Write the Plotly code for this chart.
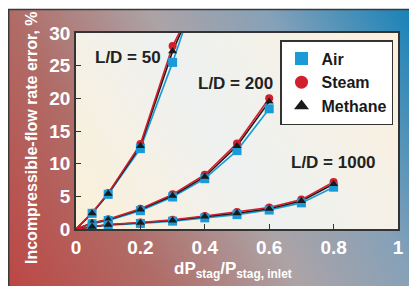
import base64
import plotly.graph_objects as go

# ---------------- data ----------------
x50 = [0, 0.05, 0.1, 0.2, 0.3, 0.4]
air50 = [0, 2.4, 5.3, 12.3, 25.5, 40.0]
steam50 = [0, 2.5, 5.5, 13.0, 28.0, 37.8]
meth50 = [0, 2.4, 5.4, 12.7, 27.2, 38.4]

x200 = [0, 0.05, 0.1, 0.2, 0.3, 0.4, 0.5, 0.6]
air200 = [0, 0.8, 1.3, 2.8, 4.9, 7.7, 12.0, 18.4]
steam200 = [0, 0.9, 1.5, 3.1, 5.3, 8.3, 13.1, 20.0]
meth200 = [0, 0.9, 1.4, 3.0, 5.1, 8.0, 12.7, 19.5]

x1000 = [0, 0.05, 0.1, 0.2, 0.3, 0.4, 0.5, 0.6, 0.7, 0.8]
air1000 = [0, 0.3, 0.6, 0.85, 1.2, 1.7, 2.2, 2.9, 4.0, 6.4]
steam1000 = [0, 0.35, 0.7, 1.0, 1.4, 2.0, 2.6, 3.3, 4.5, 7.2]
meth1000 = [0, 0.35, 0.65, 0.95, 1.3, 1.9, 2.4, 3.1, 4.3, 6.9]

series_names = ["Air", "Steam", "Methane"]
group_labels = ["L/D = 50", "L/D = 200", "L/D = 1000"]
x_ticks = [0, 0.2, 0.4, 0.6, 0.8, 1]
x_tick_text = ["0", "0.2", "0.4", "0.6", "0.8", "1"]
y_ticks = [0, 5, 10, 15, 20, 25, 30]

# ---------------- styling ----------------
OFF = 8  # page body margin offset
W, H = 417 - OFF, 286 - OFF
L, R, T, B = 76 - OFF, W - (398 - OFF), 33 - OFF, H - (229 - OFF)
PW, PH = W - L - R, H - T - B
FONT = "Liberation Sans Narrow, Liberation Sans, Arial, sans-serif"

styles = {
    "Air": dict(color="#1b9ad8", symbol="square", size=9),
    "Steam": dict(color="#d21f2d", symbol="circle", size=8),
    "Methane": dict(color="#1a1a1a", symbol="triangle-up", size=8),
}


def px_to_paper(px, py):
    """reference page pixel -> paper coordinates"""
    fx, fy = px - OFF, py - OFF
    return (fx - L) / PW, (H - B - fy) / PH


def svg_uri(svg):
    return "data:image/svg+xml;base64," + base64.b64encode(svg.encode()).decode()


bg_w, bg_h = 420, 285
bg_svg = f"""<svg xmlns='http://www.w3.org/2000/svg' width='{bg_w}' height='{bg_h}' viewBox='0 0 {bg_w} {bg_h}' preserveAspectRatio='none'>
<defs><linearGradient id='g' gradientUnits='userSpaceOnUse' x1='-8' y1='262' x2='424' y2='27'>
<stop offset='0' stop-color='#bc4744'/>
<stop offset='0.27' stop-color='#b06c67'/>
<stop offset='0.52' stop-color='#aca3a6'/>
<stop offset='0.73' stop-color='#86a1b8'/>
<stop offset='1' stop-color='#1281b8'/>
</linearGradient></defs>
<rect width='{bg_w}' height='{bg_h}' fill='url(#g)'/></svg>"""

pa_svg = f"""<svg xmlns='http://www.w3.org/2000/svg' width='{PW}' height='{PH}' viewBox='0 0 {PW} {PH}' preserveAspectRatio='none'>
<defs><linearGradient id='p' gradientUnits='userSpaceOnUse' x1='0' y1='{PH}' x2='{PW}' y2='0'>
<stop offset='0' stop-color='#fcf0d8'/>
<stop offset='0.45' stop-color='#eef1f0'/>
<stop offset='0.6' stop-color='#f1f1ec'/>
<stop offset='1' stop-color='#fcf0dc'/>
</linearGradient></defs>
<rect width='{PW}' height='{PH}' fill='url(#p)'/></svg>"""

fig = go.Figure()

groups = [
    (x50, {"Air": air50, "Steam": steam50, "Methane": meth50}),
    (x200, {"Air": air200, "Steam": steam200, "Methane": meth200}),
    (x1000, {"Air": air1000, "Steam": steam1000, "Methane": meth1000}),
]

# lines first (red on top), then markers (circles, squares, triangles)
for xs, vals in groups:
    for name in ["Air", "Methane", "Steam"]:
        st = styles[name]
        fig.add_trace(go.Scatter(
            x=xs, y=vals[name], mode="lines", showlegend=False,
            line=dict(color=st["color"], width=1.6), hoverinfo="skip",
        ))
for xs, vals in groups:
    for name in ["Steam", "Air", "Methane"]:
        st = styles[name]
        fig.add_trace(go.Scatter(
            x=xs[1:], y=vals[name][1:], mode="markers", showlegend=False,
            marker=dict(color=st["color"], symbol=st["symbol"], size=st["size"], line=dict(width=0)),
            hoverinfo="skip",
        ))

for name in series_names:
    st = styles[name]
    fig.add_trace(go.Scatter(
        x=[None], y=[None], mode="markers", name=name,
        marker=dict(color=st["color"], symbol=st["symbol"], size=13),
    ))

label_pos = [(0.162, 26.2), (0.495, 22.3), (0.80, 10.2)]
annotations = []
for (lx, ly), txt in zip(label_pos, group_labels):
    annotations.append(dict(x=lx, y=ly, xref="x", yref="y", text=txt, showarrow=False,
                            xanchor="center", yanchor="middle",
                            font=dict(family=FONT, size=17, color="#222222", weight="bold")))

tx, ty = px_to_paper(233, 270)
annotations.append(dict(x=tx, y=ty, xref="paper", yref="paper",
                        xanchor="center", yanchor="middle",
                        text="dP<sub>stag</sub>/P<sub>stag, inlet</sub>", showarrow=False,
                        font=dict(family=FONT, size=17, color="white", weight="bold")))
yx, yy = px_to_paper(31, 138)
annotations.append(dict(x=yx, y=yy, xref="paper", yref="paper", textangle=-90,
                        xanchor="center", yanchor="middle",
                        text="Incompressible-flow rate error, %", showarrow=False,
                        font=dict(family=FONT, size=16, color="white", weight="bold")))

bx0, by0 = px_to_paper(8, 9)
bx1, by1 = px_to_paper(8 + bg_w, 9 + bg_h)
images = [
    dict(source=svg_uri(bg_svg), xref="paper", yref="paper", x=bx0, y=by0,
         sizex=bx1 - bx0, sizey=by0 - by1, sizing="stretch", layer="below",
         xanchor="left", yanchor="top"),
    dict(source=svg_uri(pa_svg), xref="paper", yref="paper", x=0, y=1,
         sizex=1, sizey=1, sizing="stretch", layer="below",
         xanchor="left", yanchor="top"),
]

fx0, fy0 = px_to_paper(8.7, 9.5)
fx1, fy1 = px_to_paper(440, 300)
shapes = [
    dict(type="rect", xref="paper", yref="paper", x0=fx0, y0=fy0, x1=fx1, y1=fy1,
         line=dict(color="#3a3a3a", width=1.5), layer="above"),
]

axis_common = dict(
    showgrid=False, zeroline=False, showline=True, mirror=True,
    linecolor="#333333", linewidth=1.5, ticks="inside", ticklen=5,
    tickcolor="#333333", tickwidth=1.2,
    tickfont=dict(family=FONT, size=19, color="white", weight="bold"),
)

lgx, lgy = px_to_paper(393, 40)
fig.update_layout(
    width=W, height=H,
    margin=dict(l=L, r=R, t=T, b=B),
    paper_bgcolor="white", plot_bgcolor="rgba(0,0,0,0)",
    xaxis=dict(range=[0, 1], tickvals=x_ticks, ticktext=x_tick_text, **axis_common),
    yaxis=dict(range=[0, 30], tickvals=y_ticks, **axis_common),
    legend=dict(x=lgx, y=lgy, xanchor="right", yanchor="top",
                bgcolor="white", bordercolor="#333333", borderwidth=1.5,
                font=dict(family=FONT, size=16, color="#1a1a1a", weight="bold"),
                itemwidth=30, tracegroupgap=0),
    annotations=annotations, images=images, shapes=shapes,
    showlegend=True,
)

fig.write_html("out.html")
